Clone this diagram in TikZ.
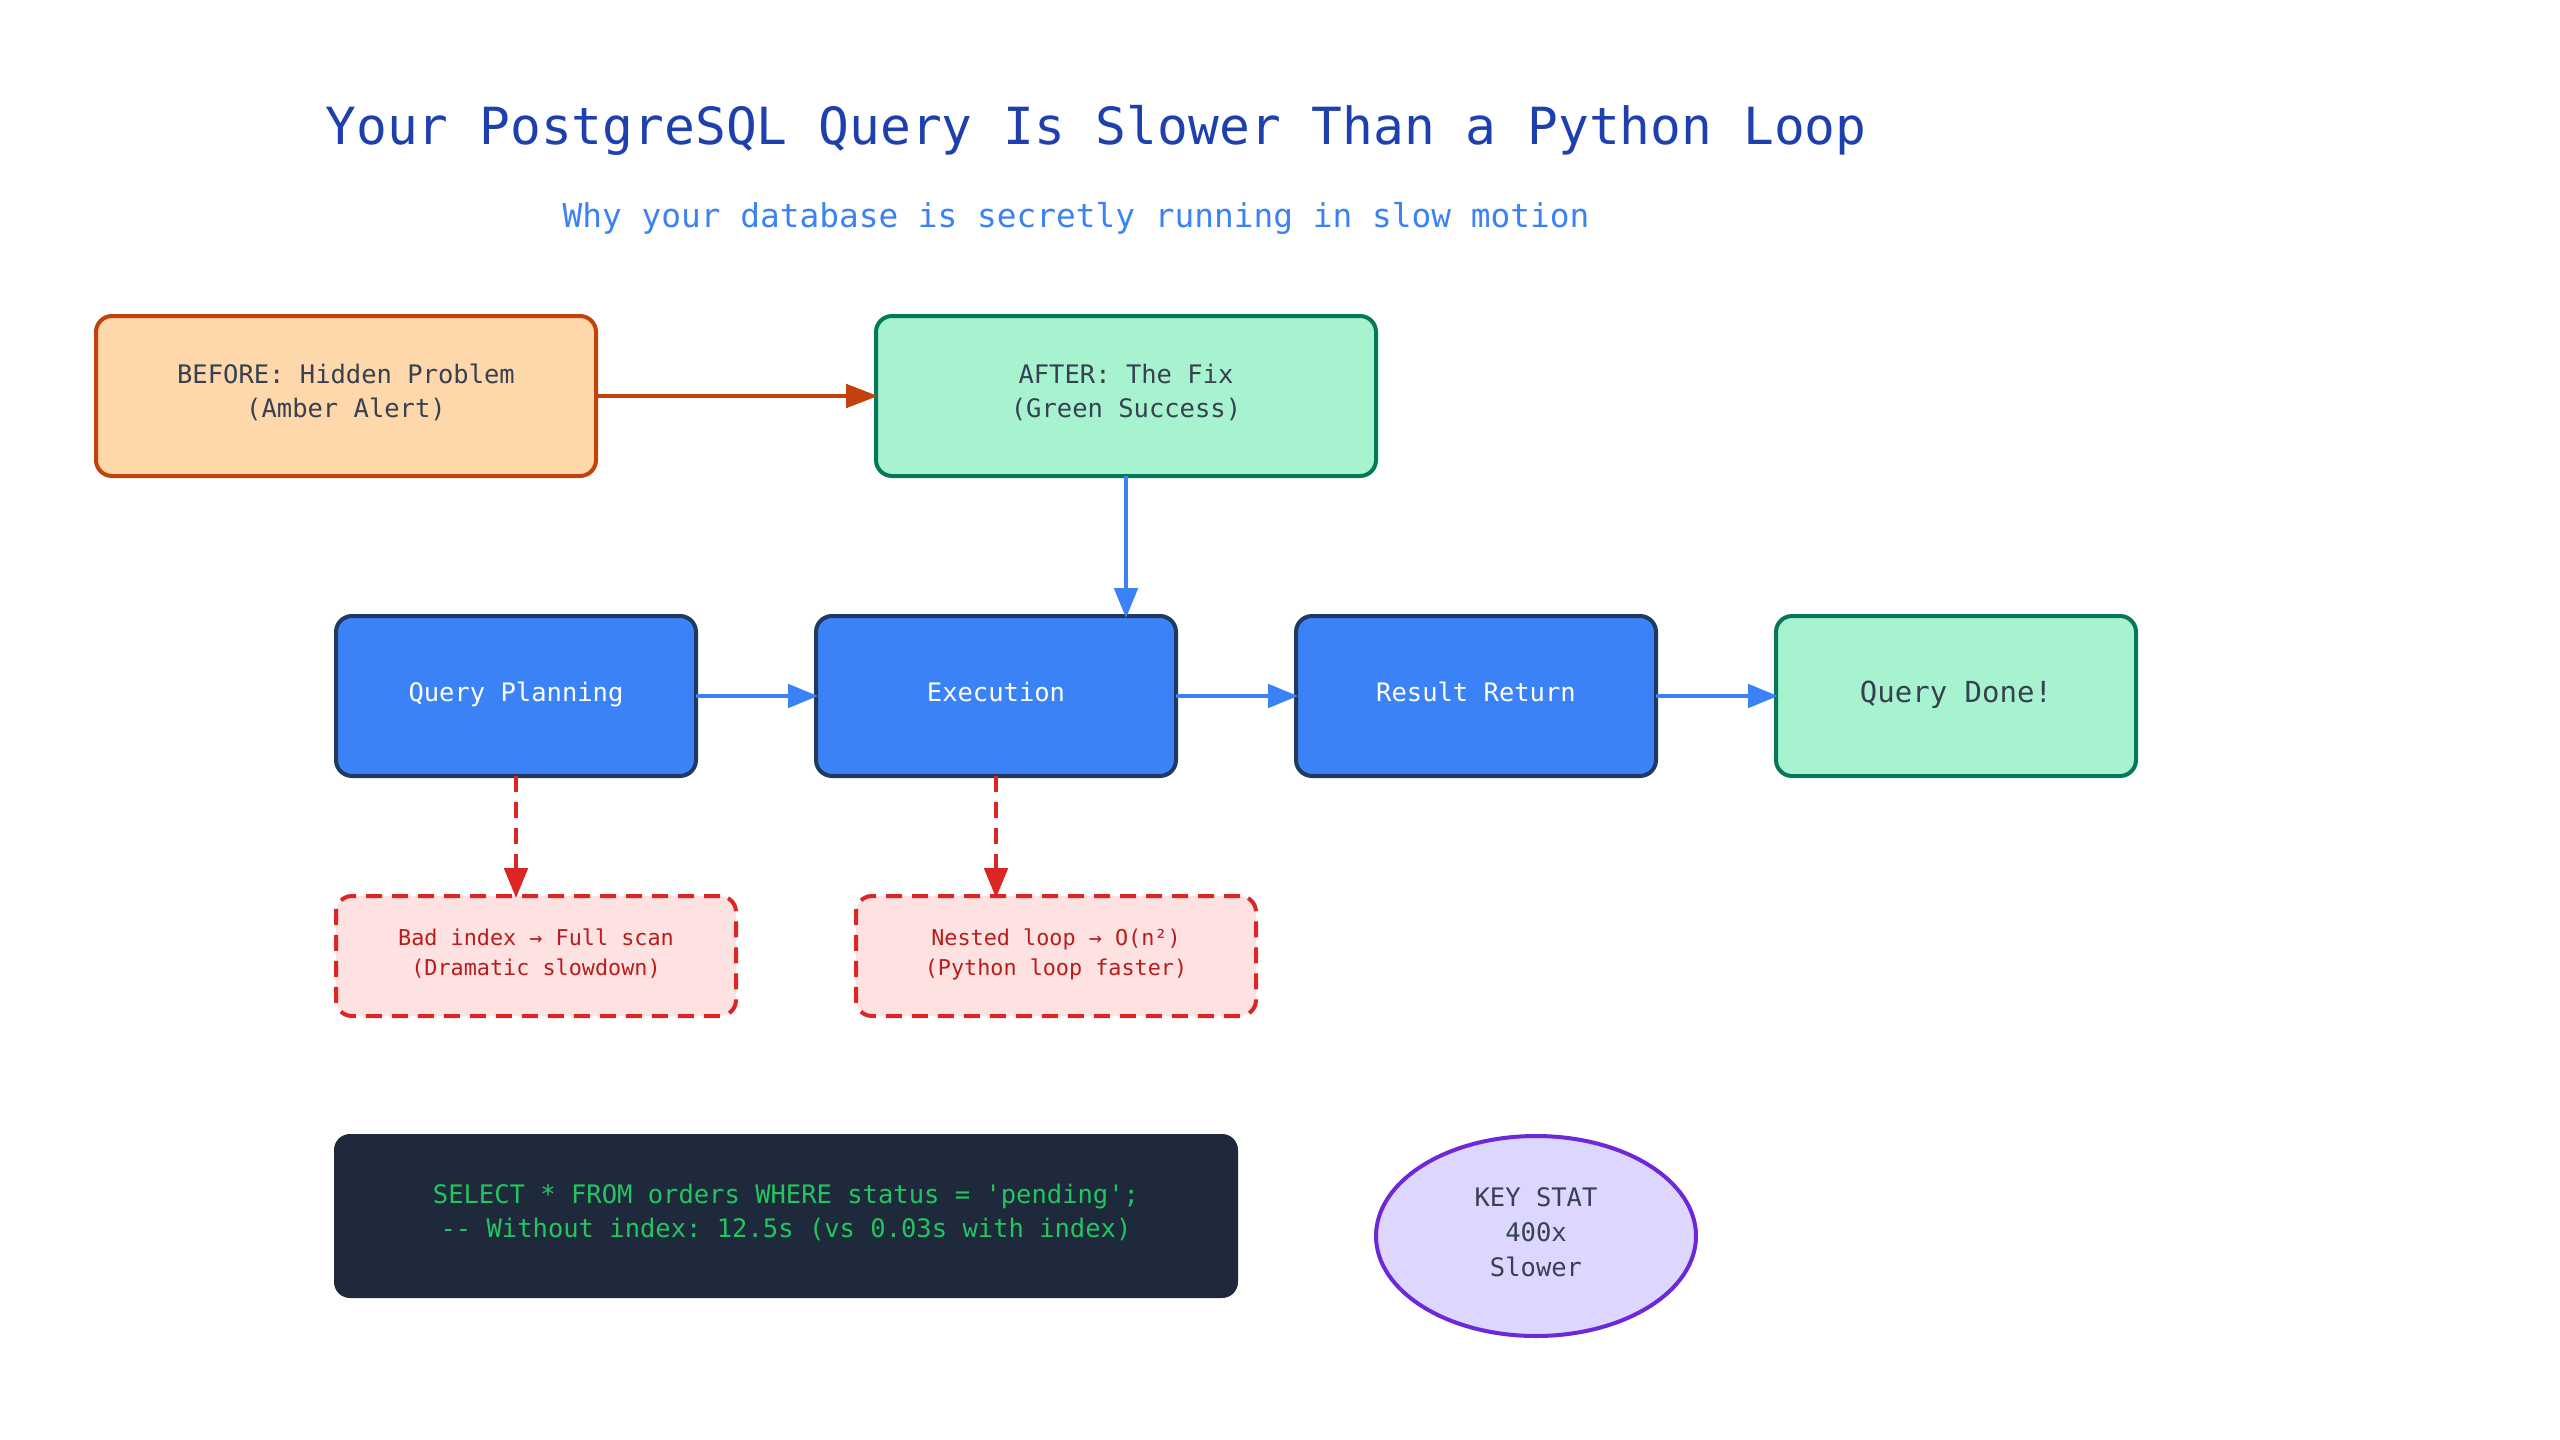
\documentclass[tikz,border=0pt]{standalone}
\usepackage{fontspec}
\setmonofont{DejaVu Sans Mono}
\usetikzlibrary{arrows.meta,shapes.geometric}
\definecolor{titleblue}{HTML}{1E40AF}
\definecolor{flowblue}{HTML}{3B82F6}
\definecolor{flowedge}{HTML}{1E3A5F}
\definecolor{amberfill}{HTML}{FED7AA}
\definecolor{amberedge}{HTML}{C2410C}
\definecolor{greenfill}{HTML}{A7F3D0}
\definecolor{greenedge}{HTML}{047857}
\definecolor{redfill}{HTML}{FEE2E2}
\definecolor{rededge}{HTML}{DC2626}
\definecolor{redtext}{HTML}{B91C1C}
\definecolor{sqlfill}{HTML}{1E293B}
\definecolor{sqltext}{HTML}{22C55E}
\definecolor{statfill}{HTML}{DDD6FE}
\definecolor{statedge}{HTML}{6D28D9}
\definecolor{bodytext}{HTML}{374151}
\newcommand{\lift}[1]{\rule[-#1pt]{0pt}{0pt}}
\newcommand{\monosize}[2]{\ttfamily\fontsize{#1}{#2}\selectfont}
\tikzset{
    box/.style={draw,rounded corners=8pt,line width=2pt,outer sep=0pt,inner sep=0pt,align=center,minimum width=180pt,minimum height=80pt,font=\monosize{12.75}{17}},
    flow/.style={box,fill=flowblue,draw=flowedge,text=white},
    issue/.style={box,fill=redfill,draw=rededge,text=redtext,dash pattern=on 8pt off 5pt,minimum width=200pt,minimum height=60pt,font=\monosize{10.9}{15}},
    link/.style={->,line width=2pt,draw=flowblue,shorten >=-1pt,>={Triangle[length=15pt,width=11.7pt]}},
    warn/.style={link,draw=rededge,dash pattern=on 8pt off 5pt}
}
\begin{document}
\begin{tikzpicture}[x=.5pt,y=-.5pt]
    \useasboundingbox (0,0) rectangle (2560,1440);
    \node (Title) [text=titleblue,font=\monosize{25.6}{30}] at (1096,130) {Your PostgreSQL Query Is Slower Than a Python Loop};
    \node (Subtitle) [text=flowblue,font=\monosize{16.4}{20}] at (1076,218) {Why your database is secretly running in slow motion};
    \node (Before) [box,fill=amberfill,draw=amberedge,text=bodytext,minimum width=250pt] at (346,396) {BEFORE: Hidden Problem\\(Amber Alert)\lift{5.2}};
    \node (After) [box,fill=greenfill,draw=greenedge,text=bodytext,minimum width=250pt] at (1126,396) {AFTER: The Fix\\(Green Success)\lift{5.2}};
    \node (Planning) [flow] at (516,696) {Query Planning\lift{4.4}};
    \node (Execution) [flow] at (996,696) {Execution\lift{4.4}};
    \node (Return) [flow] at (1476,696) {Result Return\lift{4.4}};
    \node (Done) [box,fill=greenfill,draw=greenedge,text=bodytext,font=\monosize{14.5}{18}] at (1956,696) {Query Done!\lift{4.4}};
    \node (BadIndex) [issue] at (536,956) {Bad index → Full scan\\(Dramatic slowdown)\lift{3.8}};
    \node (NestedLoop) [issue] at (1056,956) {Nested loop → O(n²)\\(Python loop faster)\lift{3.8}};
    \node (Sql) [box,draw=none,fill=sqlfill,text=sqltext,minimum width=452pt,minimum height=82pt] at (786,1216) {SELECT * FROM orders WHERE status = 'pending';\\-- Without index: 12.5s (vs 0.03s with index)\lift{5.2}};
    \node (Stat) [draw=statedge,fill=statfill,text=bodytext,ellipse,line width=2pt,outer sep=0pt,inner sep=0pt,align=center,minimum width=160pt,minimum height=100pt,font=\monosize{12.75}{17.5}] at (1536,1236) {KEY STAT\\400x\\Slower\lift{4.4}};
    \draw [link,draw=amberedge,>={Triangle[length=16pt,width=11.7pt]}] (Before) -- (After);
    \draw [link] (After.south) -- (After.south |- Execution.north);
    \draw [link] (Planning) -- (Execution);
    \draw [link] (Execution) -- (Return);
    \draw [link] (Return) -- (Done);
    \draw [warn] (Planning.south) -- (Planning.south |- BadIndex.north);
    \draw [warn] (Execution.south) -- (Execution.south |- NestedLoop.north);
\end{tikzpicture}
\end{document}
